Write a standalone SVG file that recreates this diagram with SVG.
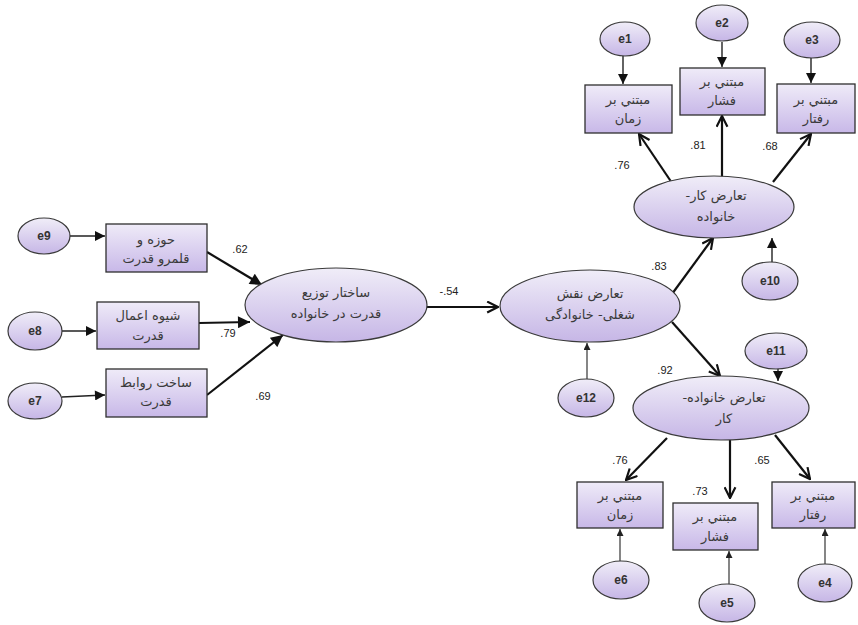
<svg xmlns="http://www.w3.org/2000/svg" width="858" height="625" viewBox="0 0 858 625">
<style>
.lat{fill:url(#gE);stroke:#3a3a3a;stroke-width:1.2}
.err{fill:url(#gE);stroke:#3a3a3a;stroke-width:1.2}
.box{fill:url(#gB);stroke:#2e2e2e;stroke-width:1.3}
.t{font-family:"DejaVu Sans","Noto Sans",sans-serif;font-size:13px;fill:#3a3a3a;text-anchor:middle;direction:rtl}
.e{font-family:"Liberation Sans",Arial,sans-serif;font-size:12px;font-weight:bold;fill:#333;text-anchor:middle}
.n{font-family:"Liberation Sans",Arial,sans-serif;font-size:11px;fill:#222;text-anchor:middle}
.thin{stroke:#222;stroke-width:1.1;fill:none;marker-end:url(#mt)}
.med{stroke:#222;stroke-width:1.4;fill:none;marker-end:url(#mm)}
.thick{stroke:#111;stroke-width:2.2;fill:none;marker-end:url(#mf)}
.chev{stroke:#111;stroke-width:2.2;fill:none;marker-end:url(#mc)}
</style>
<defs>
<linearGradient id="gE" x1="0" y1="0" x2="0" y2="1">
<stop offset="0" stop-color="#f0edf8"/>
<stop offset="1" stop-color="#c6b6e6"/>
</linearGradient>
<linearGradient id="gB" x1="0" y1="0" x2="0" y2="1">
<stop offset="0" stop-color="#efebf8"/>
<stop offset="1" stop-color="#c8b8e8"/>
</linearGradient>
<marker id="mt" viewBox="0 0 10 10" refX="10" refY="5" markerWidth="7" markerHeight="7" markerUnits="userSpaceOnUse" orient="auto"><path d="M0,0 L10,5 L0,10 z" fill="#222"/></marker>
<marker id="mm" viewBox="0 0 10 10" refX="10" refY="5" markerWidth="11" markerHeight="10" markerUnits="userSpaceOnUse" orient="auto"><path d="M0,0 L10,5 L0,10 z" fill="#111"/></marker>
<marker id="mf" viewBox="0 0 10 10" refX="10" refY="5" markerWidth="13" markerHeight="12" markerUnits="userSpaceOnUse" orient="auto"><path d="M0,0 L10,5 L0,10 z" fill="#111"/></marker>
<marker id="mc" viewBox="0 0 12 12" refX="11" refY="6" markerWidth="13" markerHeight="13" markerUnits="userSpaceOnUse" orient="auto"><path d="M1,1 L11,6 L1,11" fill="none" stroke="#111" stroke-width="2"/></marker>
</defs>

<g id="connectors">
<line class="med" x1="70" y1="236" x2="105" y2="236"/>
<line class="med" x1="62" y1="331" x2="96" y2="331"/>
<line class="med" x1="62" y1="397" x2="105" y2="395"/>
<line class="thick" x1="207" y1="252" x2="262" y2="285"/>
<line class="thick" x1="199" y1="323" x2="250" y2="322"/>
<line class="thick" x1="207" y1="395" x2="283" y2="335"/>
<line class="chev" x1="427" y1="307" x2="498" y2="307"/>
<line class="chev" x1="672" y1="294" x2="713" y2="238"/>
<line class="chev" x1="672" y1="322" x2="720" y2="376"/>
<line class="thin" x1="587" y1="379" x2="587" y2="343"/>
<line class="chev" x1="672" y1="183" x2="639" y2="134"/>
<line class="chev" x1="722" y1="177" x2="722" y2="116"/>
<line class="chev" x1="773" y1="182" x2="811" y2="134"/>
<line class="med" x1="772" y1="262" x2="772" y2="238"/>
<line class="med" x1="623" y1="56" x2="623" y2="84"/>
<line class="med" x1="722" y1="42" x2="722" y2="67"/>
<line class="med" x1="811" y1="58" x2="811" y2="83"/>
<line class="med" x1="778" y1="368" x2="778" y2="381"/>
<line class="chev" x1="667" y1="438" x2="626" y2="480"/>
<line class="chev" x1="730" y1="440" x2="730" y2="498"/>
<line class="chev" x1="775" y1="435" x2="810" y2="479"/>
<line class="thin" x1="620" y1="561" x2="620" y2="529"/>
<line class="thin" x1="729" y1="584" x2="729" y2="551"/>
<line class="thin" x1="825" y1="564" x2="825" y2="529"/>
</g>

<g id="labels">
<text class="n" x="240" y="253">.62</text>
<text class="n" x="228" y="337">.79</text>
<text class="n" x="263" y="400">.69</text>
<text class="n" x="449" y="295">-.54</text>
<text class="n" x="659" y="270">.83</text>
<text class="n" x="665" y="374">.92</text>
<text class="n" x="622" y="169">.76</text>
<text class="n" x="698" y="149">.81</text>
<text class="n" x="770" y="150">.68</text>
<text class="n" x="620" y="464">.76</text>
<text class="n" x="762" y="464">.65</text>
<text class="n" x="700" y="495">.73</text>
</g>

<g id="e9"><ellipse class="err" cx="44" cy="236" rx="26" ry="18"/><text class="e" x="44" y="240">e9</text></g>
<g id="e8"><ellipse class="err" cx="35" cy="331" rx="27" ry="19"/><text class="e" x="35" y="335">e8</text></g>
<g id="e7"><ellipse class="err" cx="35" cy="401" rx="27" ry="18"/><text class="e" x="35" y="405">e7</text></g>

<g id="box-hoze"><rect class="box" x="106" y="224" width="101" height="48"/><text class="t" x="156" y="244">حوزه و</text><text class="t" x="156" y="263">قلمرو قدرت</text></g>
<g id="box-shive"><rect class="box" x="97" y="302" width="102" height="47"/><text class="t" x="148" y="320">شیوه اعمال</text><text class="t" x="148" y="340">قدرت</text></g>
<g id="box-sakht"><rect class="box" x="106" y="369" width="101" height="48"/><text class="t" x="156" y="387">ساخت روابط</text><text class="t" x="156" y="406">قدرت</text></g>

<g id="lat-sakhtar"><ellipse class="lat" cx="336" cy="305" rx="91" ry="37"/><text class="t" x="336" y="297">ساختار توزیع</text><text class="t" x="336" y="318">قدرت در خانواده</text></g>
<g id="lat-taaroz"><ellipse class="lat" cx="590" cy="306" rx="90" ry="36"/><text class="t" x="590" y="298">تعارض نقش</text><text class="t" x="590" y="319">شغلی- خانوادگی</text></g>
<g id="e12"><ellipse class="err" cx="586" cy="398" rx="28" ry="19"/><text class="e" x="586" y="402">e12</text></g>

<g id="lat-kar"><ellipse class="lat" cx="714" cy="207" rx="80" ry="31"/><text class="t" x="716" y="200">تعارض کار-</text><text class="t" x="716" y="221">خانواده</text></g>
<g id="e10"><ellipse class="err" cx="770" cy="281" rx="28" ry="19"/><text class="e" x="770" y="285">e10</text></g>
<g id="e1"><ellipse class="err" cx="625" cy="39" rx="25" ry="17"/><text class="e" x="625" y="43">e1</text></g>
<g id="e2"><ellipse class="err" cx="722" cy="23" rx="26" ry="18"/><text class="e" x="722" y="27">e2</text></g>
<g id="e3"><ellipse class="err" cx="812" cy="40" rx="28" ry="18"/><text class="e" x="812" y="44">e3</text></g>
<g id="box-t1"><rect class="box" x="585" y="85" width="87" height="48"/><text class="t" x="628" y="104">مبتني بر</text><text class="t" x="628" y="123">زمان</text></g>
<g id="box-t2"><rect class="box" x="680" y="68" width="85" height="47"/><text class="t" x="722" y="86">مبتني بر</text><text class="t" x="722" y="105">فشار</text></g>
<g id="box-t3"><rect class="box" x="777" y="84" width="78" height="49"/><text class="t" x="816" y="104">مبتني بر</text><text class="t" x="816" y="123">رفتار</text></g>

<g id="lat-khanevade"><ellipse class="lat" cx="721" cy="408" rx="88" ry="32"/><text class="t" x="724" y="402">تعارض خانواده-</text><text class="t" x="724" y="423">کار</text></g>
<g id="e11"><ellipse class="err" cx="776" cy="351" rx="31" ry="18"/><text class="e" x="776" y="355">e11</text></g>
<g id="box-b1"><rect class="box" x="577" y="482" width="86" height="46"/><text class="t" x="620" y="500">مبتني بر</text><text class="t" x="620" y="519">زمان</text></g>
<g id="box-b2"><rect class="box" x="673" y="503" width="85" height="47"/><text class="t" x="715" y="521">مبتني بر</text><text class="t" x="715" y="541">فشار</text></g>
<g id="box-b3"><rect class="box" x="772" y="482" width="83" height="46"/><text class="t" x="813" y="500">مبتني بر</text><text class="t" x="813" y="519">رفتار</text></g>
<g id="e6"><ellipse class="err" cx="621" cy="580" rx="28" ry="19"/><text class="e" x="621" y="584">e6</text></g>
<g id="e5"><ellipse class="err" cx="727" cy="603" rx="28" ry="19"/><text class="e" x="727" y="607">e5</text></g>
<g id="e4"><ellipse class="err" cx="825" cy="583" rx="27" ry="19"/><text class="e" x="825" y="587">e4</text></g>
</svg>
